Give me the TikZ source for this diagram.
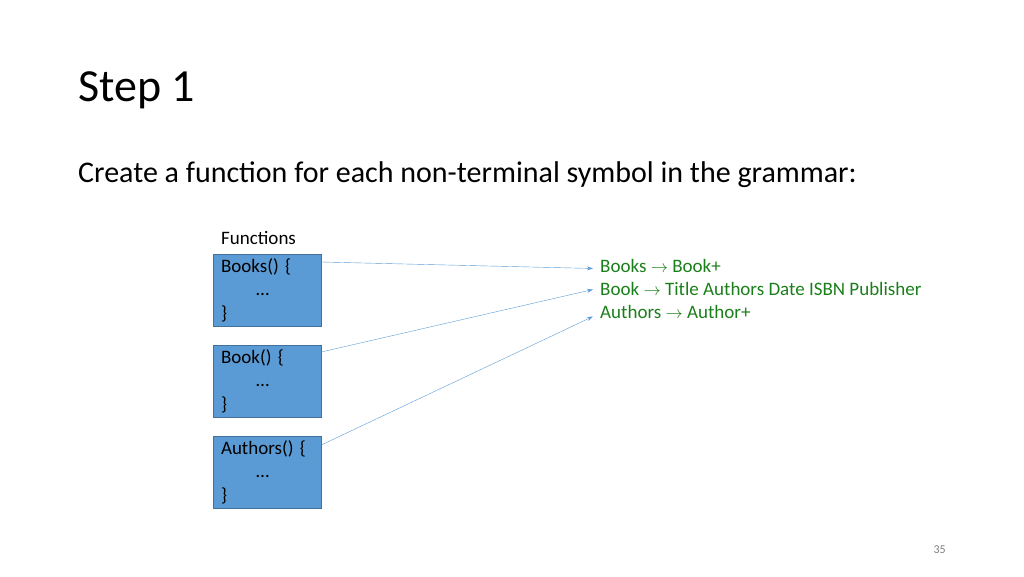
\documentclass[tikz,border=0pt]{standalone}
\usepackage{fontspec}
\setmainfont{Carlito}
\usepackage{xcolor}
\usetikzlibrary{arrows.meta}
\definecolor{boxblue}{HTML}{5B9BD5}
\definecolor{boxedge}{HTML}{41719C}
\definecolor{rulegreen}{HTML}{1A7F1A}

\begin{document}
\begin{tikzpicture}[x=1pt,y=-1pt]
			\tikzstyle{func} = [draw=boxedge, fill=boxblue, minimum width=108pt, minimum height=72pt, text width=92pt, inner sep=0pt, align=left, font=\fontsize{19}{23.5}\selectfont]
			\tikzstyle{rule} = [anchor=base west, inner sep=0pt, text=rulegreen, font=\fontsize{19}{22}\selectfont]
			\tikzset{edge/.style = {draw=boxblue, -{Stealth[length=6pt,width=4pt]}}}
			\useasboundingbox (0,0) rectangle (1024,576);
			
			\node[anchor=base west, inner sep=0pt, font=\fontsize{46}{52}\selectfont](title) at (78,101) {Step 1};
			\node[anchor=base west, inner sep=0pt, font=\fontsize{30}{36}\selectfont](intro) at (78,182) {Create a function for each non-terminal symbol in the grammar:};
			\node[anchor=base west, inner sep=0pt, font=\fontsize{19}{22}\selectfont](label) at (221,244) {Functions};
			
			\node[func](books) at (267,290) {Books() \{\\\hspace*{35pt}\ldots\\\}};
			\node[func](book) at (267,381) {Book() \{\\\hspace*{35pt}\ldots\\\}};
			\node[func](authors) at (267,472) {Authors() \{\\\hspace*{35pt}\ldots\\\}};
			
			\node[rule](rule1) at (600,272) {Books $\rightarrow$ Book+};
			\node[rule](rule2) at (600,295) {Book $\rightarrow$ Title Authors Date ISBN Publisher};
			\node[rule](rule3) at (600,318) {Authors $\rightarrow$ Author+};
			
			\draw[edge]([yshift=28pt]books.east) to ([xshift=-7pt,yshift=-3pt]rule1.west);
			\draw[edge]([yshift=29pt]book.east) to ([xshift=-7pt,yshift=-1pt]rule2.west);
			\draw[edge]([yshift=27pt]authors.east) to ([xshift=-7pt,yshift=-5pt]rule3.west);
			
			\node[anchor=base east, inner sep=0pt, text=gray, font=\fontsize{12}{14}\selectfont](page) at (946,553) {35};
			
			\end{tikzpicture}
\end{document}
